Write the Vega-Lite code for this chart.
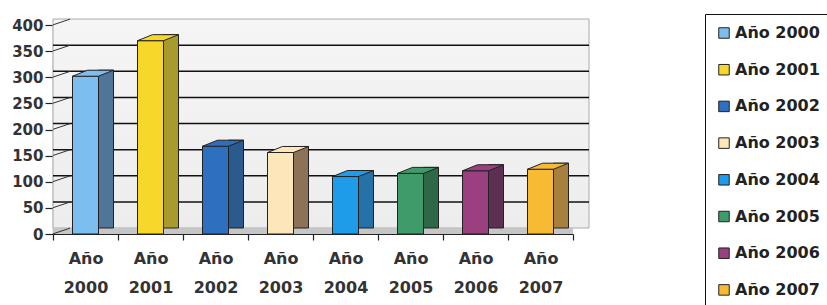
{
  "$schema": "https://vega.github.io/schema/vega-lite/v6.json",
  "width": 520,
  "height": 209,
  "padding": {"left": 53, "top": 25, "right": 254, "bottom": 71},
  "autosize": "none",
  "background": "white",
  "config": {"view": {"stroke": null}},
  "datasets": {
    "grid": [{"g": 0}, {"g": 50}, {"g": 100}, {"g": 150}, {"g": 200}, {"g": 250}, {"g": 300}, {"g": 350}, {"g": 400}]
  },
  "data": {"values": [
    {"year": "Año 2000", "value": 302},
    {"year": "Año 2001", "value": 370},
    {"year": "Año 2002", "value": 168},
    {"year": "Año 2003", "value": 156},
    {"year": "Año 2004", "value": 110},
    {"year": "Año 2005", "value": 116},
    {"year": "Año 2006", "value": 121},
    {"year": "Año 2007", "value": 124}
  ]},
  "encoding": {
    "x": {
      "field": "year", "type": "nominal", "sort": null,
      "scale": {"paddingInner": 0, "paddingOuter": 0},
      "axis": {
        "title": null, "labelAngle": 0,
        "labelExpr": "split(datum.label, ' ')",
        "labelFont": "DejaVu Sans", "labelFontWeight": "bold", "labelFontSize": 16,
        "labelColor": "#333", "labelLineHeight": 29, "labelPadding": 10,
        "tickBand": "extent", "tickSize": 6, "tickColor": "#222", "tickWidth": 1.2,
        "domainColor": "#222", "domainWidth": 1.2
      }
    },
    "y": {
      "field": "value", "type": "quantitative",
      "scale": {"domain": [0, 400], "nice": false, "zero": true},
      "axis": {
        "title": null, "grid": false, "values": [0, 50, 100, 150, 200, 250, 300, 350, 400],
        "labelFont": "DejaVu Sans", "labelFontWeight": "bold", "labelFontSize": 15,
        "labelColor": "#333", "labelPadding": 2,
        "tickSize": 8, "tickColor": "#222", "tickWidth": 1.2,
        "domainColor": "#222", "domainWidth": 1.2
      }
    }
  },
  "layer": [
    {
      "data": {"name": "grid"},
      "transform": [{"filter": "datum.g == 400"}],
      "mark": {"type": "rect", "xOffset": 16, "yOffset": -6, "y2Offset": -6,
        "stroke": "#aaa", "strokeWidth": 1,
        "fill": {"gradient": "linear", "x1": 0, "y1": 0, "x2": 0, "y2": 1,
          "stops": [{"offset": 0, "color": "#F5F5F5"}, {"offset": 1, "color": "#EDEDED"}]}},
      "encoding": {"x": null, "y": {"field": "g", "type": "quantitative"}, "y2": {"datum": 0}}
    },
    {
      "data": {"name": "grid"},
      "transform": [{"filter": "datum.g == 0"}],
      "mark": {"type": "rect", "yOffset": 0, "y2Offset": -6, "fill": "#C6C6C6"},
      "encoding": {"x": null, "y": {"field": "g", "type": "quantitative"}, "y2": {"field": "g"}}
    },
    {
      "data": {"name": "grid"},
      "transform": [{"filter": "datum.g > 0 && datum.g < 400"}],
      "mark": {"type": "rule", "xOffset": 16, "yOffset": -6, "color": "#111", "strokeWidth": 1.5},
      "encoding": {"x": null, "y": {"field": "g", "type": "quantitative"}}
    },
    {
      "data": {"name": "grid"},
      "mark": {"type": "point", "shape": "M-1,0.333L1,-0.333", "size": 289, "filled": false,
        "stroke": "#333", "strokeWidth": 1, "xOffset": -24, "yOffset": -3, "opacity": 1},
      "encoding": {"x": {"datum": "Año 2000"}, "y": {"field": "g", "type": "quantitative"}}
    },
    {
      "mark": {"type": "bar", "width": 26, "stroke": "#222", "strokeWidth": 1},
      "encoding": {
        "color": {
          "field": "year", "type": "nominal", "sort": null,
          "scale": {"range": ["#7DBEF0", "#F7D72A", "#2F6FBF", "#FDE7BA", "#1E9BE9", "#3F9B69", "#9A3F7F", "#F6BB32"]},
          "legend": {
            "title": null, "orient": "none", "legendX": 652, "legendY": -11,
            "symbolType": "square", "symbolSize": 110, "symbolStrokeColor": "#222", "symbolStrokeWidth": 1,
            "labelFont": "DejaVu Sans", "labelFontWeight": "bold", "labelFontSize": 16, "labelColor": "#222",
            "labelOffset": 3, "rowPadding": 20.7, "padding": 11, "strokeColor": "#111", "fillColor": "white"
          }
        }
      }
    },
    {
      "mark": {"type": "bar", "width": 15, "xOffset": 20.5, "yOffset": -6, "y2Offset": -3, "stroke": "#222", "strokeWidth": 1},
      "encoding": {
        "fill": {
          "field": "year", "type": "nominal", "sort": null, "legend": null,
          "scale": {"range": ["#4F7598", "#A79B2E", "#2A5A8E", "#8E7258", "#2472A8", "#2F6847", "#5D2F52", "#A7803E"]}
        }
      }
    },
    {
      "mark": {"type": "point", "shape": "M-1,0.147L0.268,0.147L1,-0.147L-0.268,-0.147Z", "size": 1681,
        "filled": true, "opacity": 1, "stroke": "#222", "strokeWidth": 1, "xOffset": 7.5, "yOffset": -3},
      "encoding": {
        "color": {"field": "year", "type": "nominal", "sort": null}
      }
    }
  ]
}
